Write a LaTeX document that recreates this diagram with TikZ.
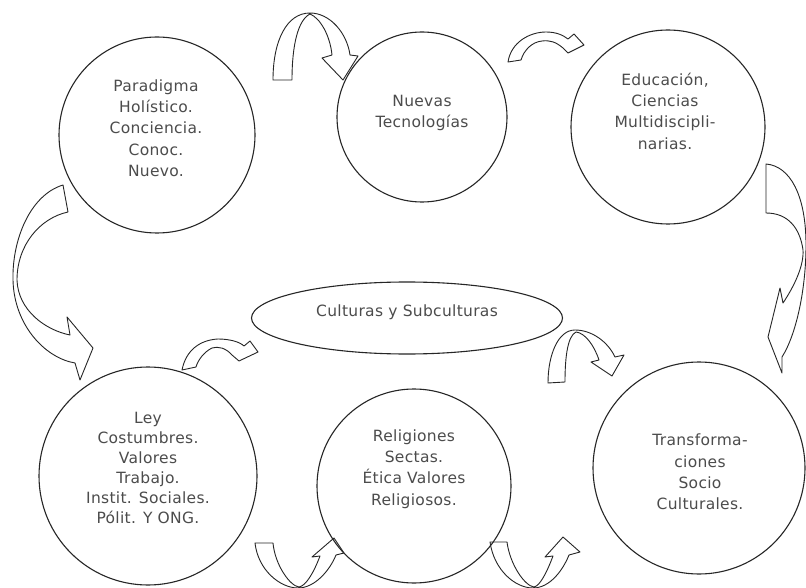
\documentclass[tikz,border=0pt]{standalone}
\usepackage{fontspec}
\usetikzlibrary{shapes.geometric}
\newfontfamily\dfont{DejaVu Sans}[LetterSpace=2]
\begin{document}
\begin{tikzpicture}[x=1pt,y=-1pt,
  circ/.style={circle,draw=black!85,line width=1.1pt,inner sep=0pt},
  oval/.style={ellipse,draw=black!85,line width=1.1pt,inner sep=0pt},
  txt/.style={align=center,text=black!70,font=\dfont\fontsize{15.5}{21.3}\selectfont},
  barrow/.style={draw=black!85,fill=white,line width=0.9pt,line join=round}]
\fill[white] (0,0) rectangle (806,588);
\useasboundingbox (0,0) rectangle (806,588);

% curved block arrows
% A: between Paradigma and Nuevas Tecnologias
\draw[barrow] (273,80) .. controls (273,40) and (287,13) .. (310,13)
  .. controls (330,13) and (347,33) .. (350,55) -- (358,56) -- (343,80) -- (322,58) -- (332,55)
  .. controls (330,35) and (320,18) .. (310,14)
  .. controls (298,20) and (292,45) .. (292,80) -- cycle;
% B: between Nuevas Tecnologias and Educacion
\draw[barrow] (508,62) .. controls (511,42) and (530,32) .. (546,32)
  .. controls (556,32) and (563,35) .. (568,39) -- (574,34) -- (584,45) -- (568,53) -- (563,48)
  .. controls (556,42) and (550,40) .. (542,41)
  .. controls (532,42) and (524,50) .. (521,60) -- cycle;
% C: right side
\draw[barrow] (766,164) .. controls (790,166) and (806,195) .. (806,245)
  .. controls (806,290) and (796,335) .. (782,357) -- (782,373) -- (768,337) -- (780,288) -- (783,303)
  .. controls (795,285) and (804,265) .. (803,250)
  .. controls (800,228) and (788,213) .. (766,213) -- cycle;
% D: left side
\draw[barrow] (63,185) .. controls (30,195) and (12,240) .. (13,280)
  .. controls (14,325) and (45,358) .. (75,363) -- (80,380) -- (93,348) -- (67,317) -- (70,335)
  .. controls (45,330) and (18,310) .. (17,280)
  .. controls (17,245) and (40,218) .. (68,212) -- cycle;
% E: above Ley
\draw[barrow] (182,370) .. controls (186,350) and (200,340) .. (218,339)
  .. controls (230,339) and (240,342) .. (244,346) -- (250,341) -- (258,352) -- (239,361) -- (232,355)
  .. controls (226,348) and (218,346) .. (212,348)
  .. controls (204,352) and (198,360) .. (196,367) -- cycle;
% F: right of ellipse
\draw[barrow] (548,383) .. controls (548,355) and (558,330) .. (575,330)
  .. controls (592,330) and (608,342) .. (615,357) -- (624,355) -- (612,376) -- (591,362) -- (599,360)
  .. controls (594,345) and (585,333) .. (576,332)
  .. controls (568,336) and (565,355) .. (565,382) -- cycle;
% G: between Ley and Religiones
\draw[barrow] (255,543) .. controls (258,570) and (280,588) .. (298,588)
  .. controls (315,588) and (330,570) .. (336,555) -- (344,553) -- (334,538) -- (312,557) -- (320,556)
  .. controls (314,572) and (306,586) .. (299,587)
  .. controls (290,586) and (275,565) .. (273,543) -- cycle;
% H: between Religiones and Transformaciones
\draw[barrow] (490,542) .. controls (494,570) and (515,588) .. (533,588)
  .. controls (550,588) and (563,570) .. (569,555) -- (580,552) -- (563,537) -- (545,557) -- (553,556)
  .. controls (547,572) and (540,586) .. (534,587)
  .. controls (525,586) and (510,565) .. (507,542) -- cycle;

% circles and ellipse
\node[circ,minimum size=196] (c1) at (157,135) {};
\node[circ,minimum size=170] (c2) at (422,117) {};
\node[circ,minimum size=194] (c3) at (668,127) {};
\node[circ,minimum size=218] (c4) at (148,476) {};
\node[circ,minimum size=194] (c5) at (414,486) {};
\node[circ,minimum size=212] (c6) at (699,468) {};
\node[oval,minimum width=311,minimum height=72] (e) at (407,318) {};

% texts
\node[txt] (t1) at (156,128) {Paradigma\\Holístico.\\Conciencia.\\Conoc.\\Nuevo.};
\node[txt] (t2) at (422,113) {Nuevas\\Tecnologías};
\node[txt] (t3) at (665,111) {Educación,\\Ciencias\\Multidiscipli-\\narias.};
\node[txt,font=\dfont\fontsize{15.5}{20}\selectfont] (t4) at (148,468) {Ley\\Costumbres.\\Valores\\Trabajo.\\Instit. Sociales.\\Pólit. Y ONG.};
\node[txt] (t5) at (414,469) {Religiones\\Sectas.\\Ética Valores\\Religiosos.};
\node[txt] (t6) at (700,472) {Transforma-\\ciones\\Socio\\Culturales.};
\node[txt] (te) at (407,312) {Culturas y Subculturas};
\end{tikzpicture}
\end{document}
